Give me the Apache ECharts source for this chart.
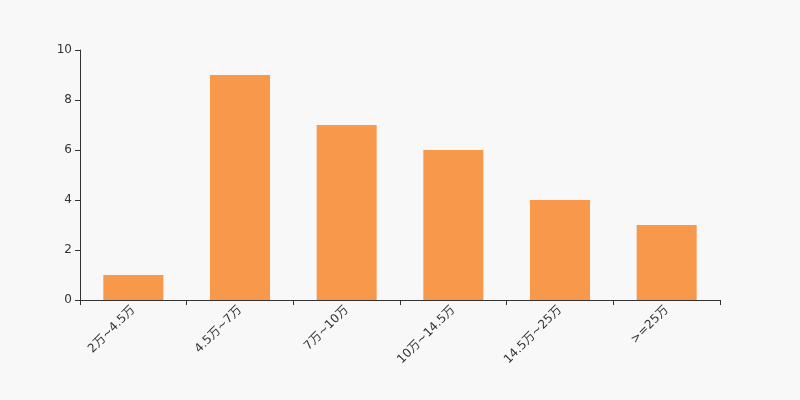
<!DOCTYPE html>
<html><head><meta charset="utf-8">
<script src="https://cdn.jsdelivr.net/npm/echarts@6/dist/echarts.min.js"></script>
<style>html,body{margin:0;padding:0;background:#f8f8f8;}#c{width:800px;height:400px;}</style>
</head><body><div id="c"></div>
<script>
const categories = ['2万~4.5万','4.5万~7万','7万~10万','10万~14.5万','14.5万~25万','>=25万'];
const values = [1, 9, 7, 6, 4, 3];
const chart = echarts.init(document.getElementById('c'));
chart.setOption({
  backgroundColor: '#f8f8f8',
  animation: false,
  grid: {left: 80, right: 80, top: 50, bottom: 100},
  xAxis: {
    type: 'category', data: categories,
    axisLine: {show: true, lineStyle: {color: '#333'}},
    axisTick: {show: true, alignWithLabel: false, length: 5, lineStyle: {color: '#333'}},
    axisLabel: {rotate: 45, margin: 8, color: '#333', fontSize: 12, fontFamily: 'DejaVu Sans, Noto Sans CJK SC'}
  },
  yAxis: {
    type: 'value', min: 0, max: 10, interval: 2,
    axisLine: {show: true, lineStyle: {color: '#333'}},
    axisTick: {show: true, length: 5, lineStyle: {color: '#333'}},
    splitLine: {show: false},
    axisLabel: {margin: 8, color: '#333', fontSize: 12, fontFamily: 'DejaVu Sans'}
  },
  series: [{type: 'bar', data: values, barWidth: 60, itemStyle: {color: '#f7984a'}}]
});
</script></body></html>
